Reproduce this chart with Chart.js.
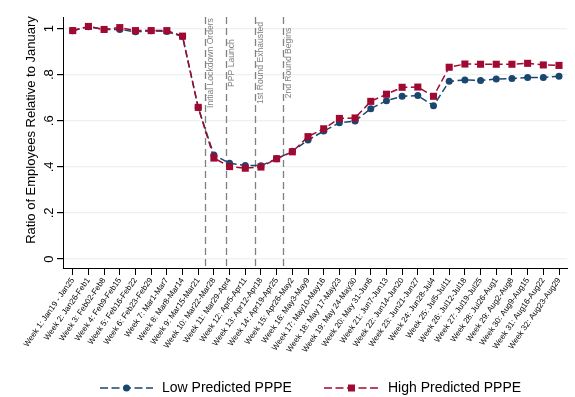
<!DOCTYPE html>
<html><head><meta charset="utf-8">
<script src="https://cdn.jsdelivr.net/npm/chart.js@4/dist/chart.umd.min.js"></script>
<style>html,body{margin:0;padding:0;background:#fff}#wrap{width:575px;height:397px}</style>
</head><body><div id="wrap"><canvas id="c" width="575" height="397"></canvas></div>
<script>
const weekLabels = [
  'Week 1: Jan19 - Jan25','Week 2: Jan26-Feb1','Week 3: Feb02-Feb8','Week 4: Feb9-Feb15',
  'Week 5: Feb16-Feb22','Week 6: Feb23-Feb29','Week 7: Mar1-Mar7','Week 8: Mar8-Mar14',
  'Week 9: Mar15-Mar21','Week 10: Mar22-Mar28','Week 11: Mar29-Apr4','Week 12: Apr5-Apr11',
  'Week 13: Apr12-Apr18','Week 14: Apr19-Apr25','Week 15: Apr26-May2','Week 16: May3-May9',
  'Week 17: May10-May16','Week 18: May 17-May23','Week 19: May 24-May30','Week 20: May 31-Jun6',
  'Week 21: Jun7-Jun13','Week 22: Jun14-Jun20','Week 23: Jun21-Jun27','Week 24: Jun28-Jul4',
  'Week 25: Jul5-Jul11','Week 26: Jul12-Jul18','Week 27: Jul19-Jul25','Week 28: Jul26-Aug1',
  'Week 29: Aug2-Aug8','Week 30: Aug9-Aug15','Week 31: Aug16-Aug22','Week 32: Aug23-Aug29'
];
const lowPPPE = [0.990, 1.008, 0.996, 0.996, 0.986, 0.990, 0.987, 0.965, 0.657, 0.451, 0.416, 0.406,
  0.405, 0.435, 0.467, 0.516, 0.555, 0.591, 0.599, 0.652, 0.687, 0.706, 0.709, 0.665,
  0.771, 0.777, 0.775, 0.781, 0.783, 0.788, 0.788, 0.793];
const highPPPE = [0.991, 1.009, 0.996, 1.004, 0.991, 0.991, 0.991, 0.967, 0.658, 0.438, 0.401, 0.394,
  0.399, 0.435, 0.465, 0.531, 0.565, 0.610, 0.612, 0.684, 0.715, 0.745, 0.746, 0.706,
  0.832, 0.846, 0.845, 0.845, 0.845, 0.849, 0.842, 0.840];
const seriesNames = ['Low Predicted PPPE', 'High Predicted PPPE'];
const yTickValues = [0, 0.2, 0.4, 0.6, 0.8, 1];
const yTickLabels = ['0', '.2', '.4', '.6', '.8', '1'];
const eventWeeks = [9.41, 10.75, 12.60, 14.39];
const eventLabels = ['Initial Lockdown Orders', 'PPP Launch', '1st Round Exhausted', '2nd Round Begins'];
const yTitle = 'Ratio of Employees Relative to January';

const NAVY = '#1a476f';
const RED = '#a00a32';
const FONT = "'Liberation Sans', Arial, Helvetica, sans-serif";

const decor = {
  id: 'decor',
  beforeDatasetsDraw(chart) {
    const ctx = chart.ctx, xs = chart.scales.x, a = chart.chartArea;
    ctx.save();
    eventWeeks.forEach((w, i) => {
      const x = Math.round(xs.getPixelForValue(w)) + 0.5;
      ctx.strokeStyle = '#808080';
      ctx.lineWidth = 1.3;
      ctx.setLineDash([7, 4]);
      ctx.beginPath(); ctx.moveTo(x, a.top); ctx.lineTo(x, a.bottom); ctx.stroke();
      ctx.setLineDash([]);
      ctx.save();
      ctx.translate(x + 5, 63);
      ctx.rotate(-Math.PI / 2);
      ctx.fillStyle = '#808080';
      ctx.font = '8.6px ' + FONT;
      ctx.textAlign = 'center'; ctx.textBaseline = 'middle';
      ctx.fillText(eventLabels[i], 0, 0);
      ctx.restore();
    });
    ctx.restore();
  },
  afterDraw(chart) {
    const ctx = chart.ctx, ys = chart.scales.y;
    ctx.save();
    ctx.fillStyle = '#000';
    ctx.font = '13px ' + FONT;
    ctx.textAlign = 'center'; ctx.textBaseline = 'middle';
    yTickValues.forEach((v, i) => {
      const y = ys.getPixelForValue(v);
      ctx.save(); ctx.translate(49, y); ctx.rotate(-Math.PI / 2);
      ctx.fillText(yTickLabels[i], 0, 0); ctx.restore();
    });
    ctx.save(); ctx.translate(31, 130); ctx.rotate(-Math.PI / 2);
    ctx.fillText(yTitle, 0, 0); ctx.restore();
    // legend
    const ly = 388;
    const items = [
      {x0: 100, x1: 153, color: NAVY, shape: 'circle', tx: 162, text: seriesNames[0]},
      {x0: 324, x1: 379, color: RED, shape: 'rect', tx: 388, text: seriesNames[1]}
    ];
    items.forEach(it => {
      ctx.strokeStyle = it.color; ctx.lineWidth = 1.5; ctx.setLineDash([8, 3.5]);
      ctx.beginPath(); ctx.moveTo(it.x0, ly); ctx.lineTo(it.x1, ly); ctx.stroke();
      ctx.setLineDash([]);
      ctx.fillStyle = it.color;
      const cx = (it.x0 + it.x1) / 2;
      if (it.shape === 'circle') { ctx.beginPath(); ctx.arc(cx, ly, 3.5, 0, Math.PI * 2); ctx.fill(); }
      else { ctx.fillRect(cx - 3.5, ly - 3.5, 7, 7); }
      ctx.fillStyle = '#000'; ctx.font = '14px ' + FONT;
      ctx.textAlign = 'left'; ctx.textBaseline = 'middle';
      ctx.fillText(it.text, it.tx, ly);
    });
    ctx.restore();
  }
};

new Chart(document.getElementById('c'), {
  type: 'line',
  data: {
    datasets: [
      {
        label: seriesNames[0],
        data: lowPPPE.map((v, i) => ({x: i + 1, y: v})),
        borderColor: NAVY, backgroundColor: NAVY, borderWidth: 1.5, borderDash: [7, 3.5],
        pointStyle: 'circle', pointRadius: 3.5, pointBorderWidth: 0, pointBackgroundColor: NAVY,
        tension: 0, order: 1
      },
      {
        label: seriesNames[1],
        data: highPPPE.map((v, i) => ({x: i + 1, y: v})),
        borderColor: RED, backgroundColor: RED, borderWidth: 1.5, borderDash: [7, 3.5],
        pointStyle: 'rect', pointRadius: 5, pointBorderWidth: 0, pointBackgroundColor: RED,
        tension: 0, order: 0
      }
    ]
  },
  options: {
    responsive: false, animation: false, devicePixelRatio: 1,
    layout: {padding: {top: 17, right: 8, left: 0, bottom: 0}},
    plugins: {legend: {display: false}, tooltip: {enabled: false}},
    scales: {
      x: {
        type: 'linear', min: 0.38, max: 32.51,
        afterBuildTicks: s => { s.ticks = weekLabels.map((_, i) => ({value: i + 1})); },
        afterFit: s => { s.height = 129; },
        ticks: {
          autoSkip: false, minRotation: 55, maxRotation: 55, padding: 1,
          color: '#000', font: {size: 8, family: FONT},
          callback: v => weekLabels[Math.round(v) - 1]
        },
        grid: {drawOnChartArea: false, tickLength: 7, tickColor: '#000'},
        border: {color: '#000', width: 1}
      },
      y: {
        min: -0.039, max: 1.05,
        afterBuildTicks: s => { s.ticks = yTickValues.map(v => ({value: v})); },
        afterFit: s => { s.width = 63; },
        ticks: {display: false},
        grid: {color: '#eaf2f3', lineWidth: 1.2, tickColor: '#000', tickLength: 6},
        border: {color: '#000', width: 1}
      }
    }
  },
  plugins: [decor]
});
</script>
</body></html>
